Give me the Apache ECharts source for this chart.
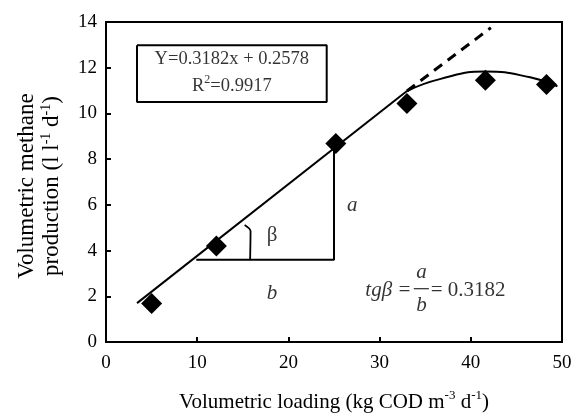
<!DOCTYPE html>
<html>
<head>
<meta charset="utf-8">
<script src="https://cdn.jsdelivr.net/npm/echarts@6/dist/echarts.min.js"></script>
<style>
html, body { margin: 0; padding: 0; background: #fff; }
#chart { width: 574px; height: 416px; }
</style>
</head>
<body>
<div id="chart"></div>
<script>
// measured points
const loading = [5.0, 12.1, 25.2, 33.0, 41.6, 48.3];
const methane = [1.68, 4.2, 8.68, 10.43, 11.45, 11.27];

// fitted line, its dashed extension and the levelling-off curve
const fitLine = [[3.4, 1.7], [33.0, 10.98]];
const fitExtension = [[33.0, 10.98], [42.2, 13.75]];
const curveX = [33.0, 36.6, 41.6, 46.5, 49.5];
const curveY = [10.98, 11.5, 11.83, 11.58, 11.18];

// slope triangle drawn on the fit
const triangle = [[9.9, 3.6], [25.0, 3.6], [25.0, 8.4]];
const angleArc = [[15.2, 5.12], [15.85, 4.85], [15.8, 3.6]];
const fractionBar = [[33.75, 2.33], [35.4, 2.33]];

// equation box outline
const eqBox = [[3.4, 12.98], [24.2, 12.98], [24.2, 10.5], [3.4, 10.5], [3.4, 12.98]];

// text annotations (data coords)
const eqLine1At = [13.8, 12.38];
const eqLine2At = [13.8, 11.2];
const aAt = [27.0, 5.99];
const betaAt = [18.2, 4.68];
const bAt = [18.2, 2.13];
const tgAt = [33.5, 2.27];
const fracTopAt = [34.6, 3.05];
const fracBottomAt = [34.6, 1.58];
const resultAt = [35.6, 2.27];

const font = 'Liberation Serif';
const ink = '#000';

const chart = echarts.init(document.getElementById('chart'));

const lineSeries = (data, extra) => Object.assign({
    type: 'line',
    data: data,
    symbol: 'none',
    silent: true,
    lineStyle: { color: '#000', width: 2 }
}, extra || {});

const textItem = (pos, label) => ({
    value: pos,
    label: Object.assign({
        show: true,
        position: 'inside',
        color: ink,
        fontFamily: font,
        fontSize: 21,
        textBorderWidth: 0
    }, label)
});

const supStyle = { fontFamily: font, fontSize: 13, color: ink, verticalAlign: 'top', lineHeight: 20 };

const option = {
    animation: false,
    grid: {
        left: 106,
        right: 12,
        top: 22,
        bottom: 74,
        outerBoundsMode: 'none',
        show: true,
        borderColor: '#000',
        borderWidth: 2
    },
    xAxis: {
        type: 'value',
        min: 0,
        max: 50,
        interval: 10,
        name: 'Volumetric loading (kg COD m{s|-3} d{s|-1})',
        nameLocation: 'middle',
        nameGap: 47,
        nameTextStyle: {
            fontFamily: font, fontSize: 21, color: ink, lineHeight: 26,
            rich: { s: supStyle }
        },
        axisLine: { lineStyle: { color: '#000', width: 2 } },
        axisTick: { inside: true, length: 5, lineStyle: { color: '#000', width: 2 } },
        axisLabel: { fontFamily: font, fontSize: 19, color: ink, margin: 12 },
        splitLine: { show: false }
    },
    yAxis: {
        type: 'value',
        min: 0,
        max: 14,
        interval: 2,
        name: 'Volumetric methane\nproduction (l l{s|-1} d{s|-1})',
        nameLocation: 'middle',
        nameRotate: 90,
        nameGap: 42,
        nameTextStyle: {
            fontFamily: font, fontSize: 23, color: ink, lineHeight: 25,
            padding: [0, 8, 0, 0],
            rich: { s: { fontFamily: font, fontSize: 14, color: ink, verticalAlign: 'top', lineHeight: 20 } }
        },
        axisLine: { lineStyle: { color: '#000', width: 2 } },
        axisTick: { inside: true, length: 5, lineStyle: { color: '#000', width: 2 } },
        axisLabel: { fontFamily: font, fontSize: 19, color: ink, margin: 9 },
        splitLine: { show: false }
    },
    series: [
        lineSeries(fitLine),
        lineSeries(fitExtension, { lineStyle: { color: '#000', width: 3, type: [10, 7] } }),
        lineSeries(curveX.map((x, i) => [x, curveY[i]]), { smooth: 0.5 }),
        lineSeries(triangle),
        lineSeries(angleArc, { smooth: 0.3, lineStyle: { color: '#000', width: 1.8 } }),
        lineSeries(fractionBar, { lineStyle: { color: '#000', width: 1.2 } }),
        lineSeries(eqBox, { lineStyle: { color: '#000', width: 2 } }),
        {
            type: 'scatter',
            data: loading.map((x, i) => [x, methane[i]]),
            symbol: 'diamond',
            symbolSize: 21,
            itemStyle: { color: '#000', opacity: 1 },
            z: 10
        },
        {
            type: 'scatter',
            silent: true,
            symbolSize: 1,
            itemStyle: { color: 'rgba(0,0,0,0)' },
            z: 11,
            data: [
                textItem(eqLine1At, { formatter: 'Y=0.3182x + 0.2578', fontSize: 18.5 }),
                textItem(eqLine2At, {
                    formatter: '{t|R}{s|2}{t|=0.9917}',
                    rich: {
                        t: { fontFamily: font, fontSize: 18.5, color: ink, lineHeight: 24 },
                        s: { fontFamily: font, fontSize: 12, color: ink, lineHeight: 17, verticalAlign: 'top' }
                    }
                }),
                textItem(aAt, { formatter: 'a', fontStyle: 'italic' }),
                textItem(betaAt, { formatter: 'β' }),
                textItem(bAt, { formatter: 'b', fontStyle: 'italic' }),
                textItem(tgAt, { formatter: 'tgβ =', fontStyle: 'italic', align: 'right' }),
                textItem(fracTopAt, { formatter: 'a', fontStyle: 'italic' }),
                textItem(fracBottomAt, { formatter: 'b', fontStyle: 'italic' }),
                textItem(resultAt, { formatter: '= 0.3182', align: 'left' })
            ]
        }
    ]
};

chart.setOption(option);
</script>
</body>
</html>
